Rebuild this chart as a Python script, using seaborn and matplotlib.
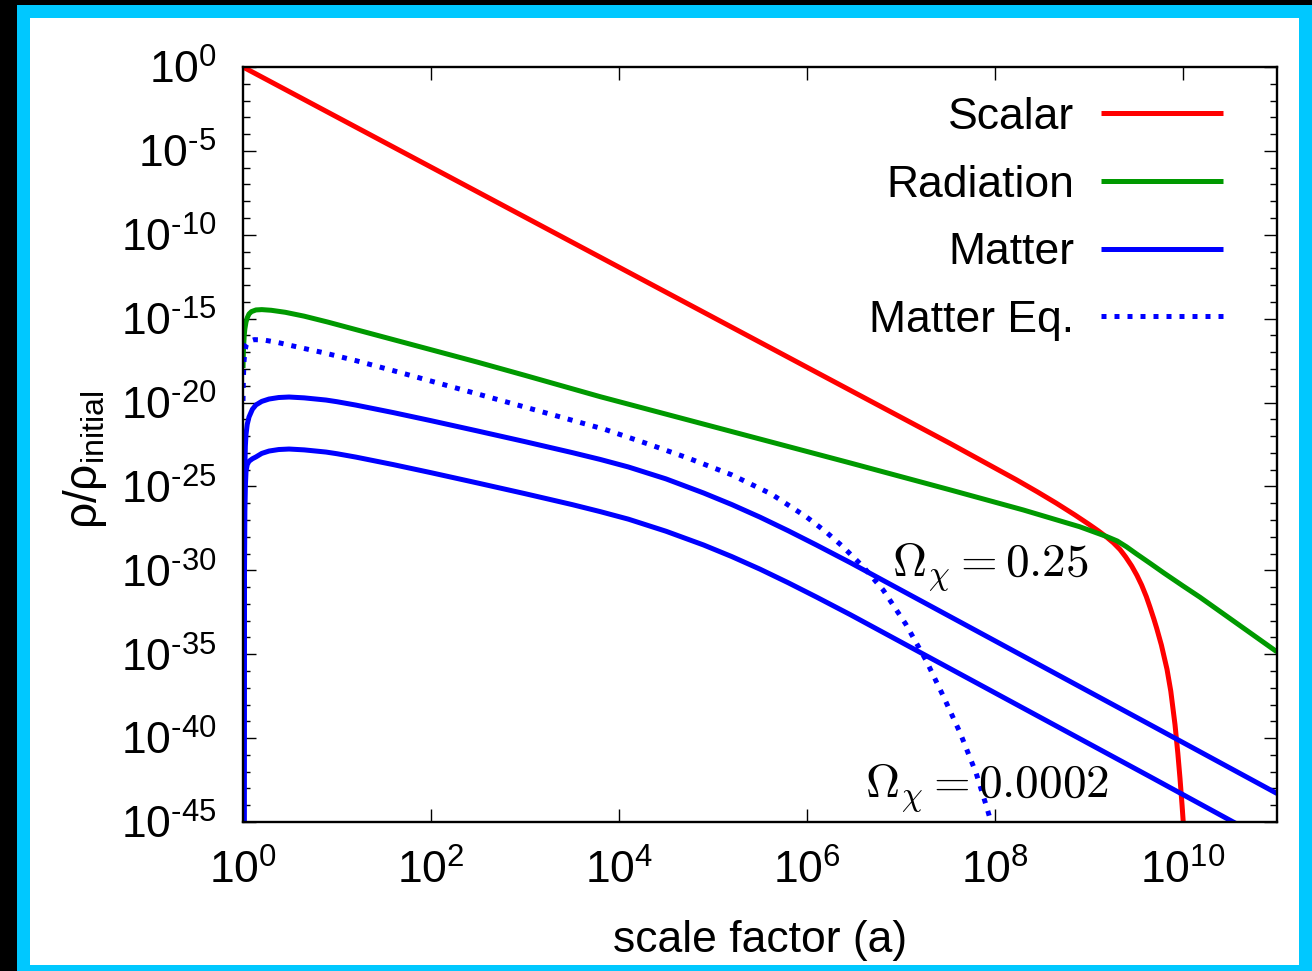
import numpy as np
import pandas as pd
import matplotlib
matplotlib.use("Agg")
import matplotlib.pyplot as plt
from matplotlib.patches import Rectangle
from matplotlib.ticker import FixedLocator, FuncFormatter, NullFormatter
import seaborn as sns

# ---- curve samples: log10(a) and log10(rho / rho_initial) ----
scalar_loga = [0.0, 7.52, 8.23, 8.45, 8.65, 8.85, 9.0, 9.1, 9.188, 9.26, 9.33,
               9.39, 9.454, 9.51, 9.56, 9.61, 9.649, 9.69, 9.72, 9.77, 9.83,
               9.87, 9.915, 9.945, 9.968, 9.99, 10.01]
scalar_logrho = [0.0, -22.43, -24.61, -25.32, -25.99, -26.7, -27.26, -27.65,
                 -28.02, -28.36, -28.76, -29.2, -29.74, -30.3, -30.88, -31.57,
                 -32.2, -32.9, -33.45, -34.45, -35.9, -37.2, -39.2, -40.9,
                 -42.4, -44.0, -45.6]

radiation_loga = [0.0, 0.004, 0.008, 0.013, 0.02, 0.032, 0.045, 0.064, 0.09,
                  0.138, 0.2, 0.3, 0.45, 0.65, 0.9, 1.2, 1.6, 2.0, 2.5, 3.0,
                  3.8, 6.46, 7.52, 8.3, 8.9, 9.19, 9.3, 9.4, 9.5, 9.65, 9.8,
                  10.0, 10.18, 11.0]
radiation_logrho = [-17.94, -17.0, -16.5, -16.0, -15.6, -15.2, -14.95, -14.72,
                    -14.58, -14.48, -14.46, -14.5, -14.62, -14.85, -15.2,
                    -15.65, -16.25, -16.85, -17.6, -18.38, -19.65, -23.6,
                    -25.2, -26.4, -27.4, -27.99, -28.25, -28.6, -29.0, -29.58,
                    -30.17, -30.93, -31.6, -34.86]

matter_hi_loga = [0.012, 0.016, 0.02, 0.025, 0.032, 0.045, 0.064, 0.1, 0.138,
                  0.2, 0.277, 0.38, 0.49, 0.65, 0.883, 1.0, 1.2, 1.6, 2.0, 2.5,
                  3.0, 3.5, 3.8, 4.1, 4.5, 4.9, 5.2, 5.5, 5.8, 6.1, 6.46, 9.65,
                  11.0]
matter_hi_logrho = [-46.0, -26.0, -23.8, -22.6, -21.9, -21.3, -20.86, -20.4,
                    -20.14, -19.93, -19.79, -19.7, -19.67, -19.72, -19.85,
                    -19.95, -20.15, -20.6, -21.08, -21.7, -22.33, -22.98,
                    -23.39, -23.84, -24.55, -25.39, -26.08, -26.83, -27.64,
                    -28.49, -29.54, -39.2, -43.3]

matter_lo_loga = [0.012, 0.016, 0.02, 0.025, 0.032, 0.045, 0.064, 0.1, 0.138,
                  0.2, 0.277, 0.38, 0.49, 0.65, 0.883, 1.0, 1.2, 1.6, 2.0, 2.5,
                  3.0, 3.5, 3.8, 4.1, 4.5, 4.9, 5.2, 5.5, 5.8, 6.1, 6.46, 9.65,
                  10.6]
matter_lo_logrho = [-46.0, -30.0, -26.5, -25.0, -24.1, -23.7, -23.5, -23.35,
                    -23.24, -23.03, -22.89, -22.8, -22.77, -22.82, -22.95,
                    -23.05, -23.25, -23.7, -24.18, -24.8, -25.43, -26.08,
                    -26.5, -26.95, -27.67, -28.49, -29.18, -29.93, -30.74,
                    -31.59, -32.64, -42.3, -45.2]

matter_eq_loga = [0.0, 0.004, 0.01, 0.02, 0.035, 0.06, 0.12, 0.22, 0.37, 0.51,
                  0.67, 0.85, 1.2, 1.6, 2.0, 3.0, 3.85, 4.31, 4.74, 5.2, 5.62,
                  6.0, 6.2, 6.37, 6.6, 6.81, 7.05, 7.27, 7.45, 7.63, 7.8, 7.91,
                  7.96, 8.0]
matter_eq_logrho = [-19.9, -18.6, -17.6, -16.95, -16.55, -16.35, -16.25,
                    -16.27, -16.42, -16.6, -16.8, -17.02, -17.5, -18.1,
                    -18.72, -20.27, -21.6, -22.47, -23.32, -24.31, -25.45,
                    -26.84, -27.7, -28.53, -29.8, -31.17, -33.2, -35.4,
                    -37.5, -39.7, -42.1, -44.08, -45.05, -45.9]

legend_labels = ["Scalar", "Radiation", "Matter", "Matter Eq."]
omega_labels = [r"$\Omega_\chi = 0.25$", r"$\Omega_\chi = 0.0002$"]

x_major_exp = [0, 2, 4, 6, 8, 10]
y_major_exp = list(range(0, -46, -5))


def curve_frame(loga, logrho):
    return pd.DataFrame({"a": np.power(10.0, loga), "rho": np.power(10.0, logrho)})


sns.set_style("ticks")
plt.rcParams["font.family"] = ["Liberation Sans", "DejaVu Sans"]
plt.rcParams["text.color"] = "black"
plt.rcParams["axes.labelcolor"] = "black"
plt.rcParams["xtick.color"] = "black"
plt.rcParams["ytick.color"] = "black"
plt.rcParams["mathtext.fontset"] = "cm"

W, H = 1312, 971
fig = plt.figure(figsize=(W / 100, H / 100), dpi=100)
fig.patch.set_facecolor("black")
fig.patches.append(Rectangle((17 / W, 0), (W - 17) / W, (H - 5) / H,
                             transform=fig.transFigure, facecolor="#00C8FF",
                             edgecolor="none", zorder=-3))
fig.patches.append(Rectangle((30 / W, 6 / H), (1299 - 30) / W, (965 - 18) / H,
                             transform=fig.transFigure, facecolor="white",
                             edgecolor="none", zorder=-2))

ax = fig.add_axes([243 / W, 1 - 822 / H, (1277 - 243) / W, (822 - 67) / H])
ax.set_facecolor("white")

lw = 3.6
style = dict(estimator=None, sort=False, ax=ax, linewidth=lw)
sns.lineplot(data=curve_frame(scalar_loga, scalar_logrho), x="a", y="rho",
             color="#FF0000", label=legend_labels[0], **style)
sns.lineplot(data=curve_frame(radiation_loga, radiation_logrho), x="a", y="rho",
             color="#009900", label=legend_labels[1], **style)
sns.lineplot(data=curve_frame(matter_hi_loga, matter_hi_logrho), x="a", y="rho",
             color="#0000FF", label=legend_labels[2], **style)
sns.lineplot(data=curve_frame(matter_eq_loga, matter_eq_logrho), x="a", y="rho",
             color="#0000FF", label=legend_labels[3], linestyle=(0, (1, 1.6)),
             **style)
sns.lineplot(data=curve_frame(matter_lo_loga, matter_lo_logrho), x="a", y="rho",
             color="#0000FF", **style)
for ln in ax.get_lines():
    ln.set_dash_capstyle("butt")
    ln.set_solid_capstyle("butt")
    ln.set_solid_joinstyle("round")

ax.set_xscale("log")
ax.set_yscale("log")
ax.set_xlim(1, 1e11)
ax.set_ylim(1e-45, 1)

# ticks: inward on all four sides, decade minor ticks on y only
ax.xaxis.set_major_locator(FixedLocator([10.0 ** e for e in x_major_exp]))
ax.xaxis.set_minor_locator(FixedLocator([]))
ax.yaxis.set_major_locator(FixedLocator([10.0 ** e for e in y_major_exp]))
ax.yaxis.set_minor_locator(FixedLocator(
    [10.0 ** e for e in range(-45, 1) if e % 5 != 0]))
ax.xaxis.set_minor_formatter(NullFormatter())
ax.yaxis.set_minor_formatter(NullFormatter())


def pow_label(v, pos):
    e = int(round(np.log10(v)))
    s = str(e).replace("-", "\u2010")
    return r"$\mathregular{10^{%s}}$" % s


ax.xaxis.set_major_formatter(FuncFormatter(pow_label))
ax.yaxis.set_major_formatter(FuncFormatter(pow_label))
ax.tick_params(which="both", direction="in", top=True, right=True,
               color="black", width=1.0)
ax.tick_params(which="major", length=9.5)
ax.tick_params(which="minor", length=5)
ax.tick_params(axis="y", which="major", labelsize=32, pad=19)
ax.tick_params(axis="x", which="major", labelsize=32, pad=20)
for sp in ax.spines.values():
    sp.set_linewidth(1.7)
    sp.set_color("black")
    sp.set_visible(True)

ax.set_xlabel("scale factor (a)", fontsize=32)
ax.set_ylabel(r"$\mathregular{ρ/ρ_{initial}}$", fontsize=33)
ax.xaxis.set_label_coords(0.5, -0.13)
ax.yaxis.set_label_coords(-0.13, 0.48)

# curve annotations
ax.text(10 ** 6.9, 10 ** -30.4, omega_labels[0], fontsize=34,
        ha="left", va="baseline")
ax.text(10 ** 6.62, 10 ** -43.56, omega_labels[1], fontsize=34,
        ha="left", va="baseline")

handles = ax.get_lines()[:4]
leg = ax.legend(handles=handles, labels=legend_labels, loc="upper right",
                bbox_to_anchor=(1223 / W, 1 - 97 / H),
                bbox_transform=fig.transFigure, frameon=False, fontsize=32,
                markerfirst=False, handlelength=2.75, handletextpad=0.6,
                labelspacing=0.6, borderpad=0, borderaxespad=0)
for h in leg.get_lines():
    h.set_linewidth(lw)

fig.savefig("out.png", dpi=100, facecolor=fig.get_facecolor())
